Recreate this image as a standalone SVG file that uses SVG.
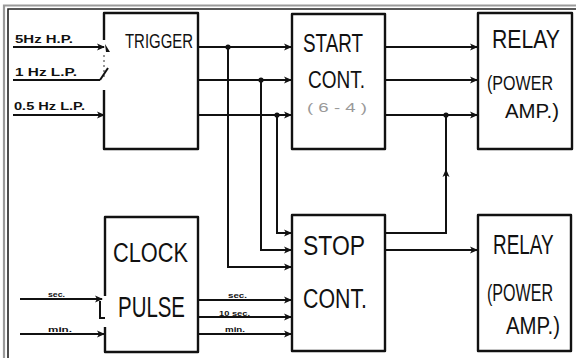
<svg xmlns="http://www.w3.org/2000/svg" width="576" height="358" viewBox="0 0 576 358">
<style>
.box{fill:none;stroke:#111;stroke-width:2.4;stroke-linejoin:round}
.ln{fill:none;stroke:#111;stroke-width:2}
.t{font-family:"Liberation Sans",Arial,sans-serif;fill:#111}
.s{font-family:"Liberation Sans",Arial,sans-serif;fill:#111;font-weight:bold}
</style>
<defs>
<marker id="ah" viewBox="0 0 8 8" refX="7" refY="4" markerWidth="8" markerHeight="8" markerUnits="userSpaceOnUse" orient="auto">
<path d="M0,0.5 L8,4 L0,7.5 L2,4 Z" fill="#111"/>
</marker>
</defs>
<rect width="576" height="358" fill="#fff"/>
<g id="frame">
<path d="M4,358 V5.5 H576" fill="none" stroke="#9a9a9a" stroke-width="2.2"/>
<path d="M8,358 V9 H576" fill="none" stroke="#222" stroke-width="1.6"/>
</g>
<g id="connectors">
<line class="ln" x1="13" y1="47" x2="104" y2="47" marker-end="url(#ah)"/>
<line class="ln" x1="13" y1="80" x2="100" y2="80"/>
<line class="ln" x1="13" y1="115" x2="104" y2="115" marker-end="url(#ah)"/>
<line class="ln" x1="198" y1="47" x2="291" y2="47" marker-end="url(#ah)"/>
<line class="ln" x1="198" y1="80" x2="291" y2="80" marker-end="url(#ah)"/>
<line class="ln" x1="198" y1="115" x2="291" y2="115" marker-end="url(#ah)"/>
<polyline class="ln" points="228,47 228,267 291,267" marker-end="url(#ah)"/>
<polyline class="ln" points="261,80 261,250 291,250" marker-end="url(#ah)"/>
<polyline class="ln" points="277,115 277,233 291,233" marker-end="url(#ah)"/>
<circle cx="228" cy="47" r="2.6" fill="#111"/>
<circle cx="261" cy="80" r="2.6" fill="#111"/>
<circle cx="277" cy="115" r="2.6" fill="#111"/>
<line class="ln" x1="20" y1="299" x2="102" y2="299" marker-end="url(#ah)"/>
<path class="ln" d="M100,301 V318 H105"/>
<line class="ln" x1="20" y1="334" x2="104" y2="334" marker-end="url(#ah)"/>
<line class="ln" x1="198" y1="300" x2="291" y2="300" marker-end="url(#ah)"/>
<line class="ln" x1="198" y1="317" x2="291" y2="317" marker-end="url(#ah)"/>
<line class="ln" x1="198" y1="334" x2="291" y2="334" marker-end="url(#ah)"/>
<line class="ln" x1="385" y1="47" x2="477" y2="47" marker-end="url(#ah)"/>
<line class="ln" x1="385" y1="80" x2="477" y2="80" marker-end="url(#ah)"/>
<line class="ln" x1="385" y1="115" x2="477" y2="115" marker-end="url(#ah)"/>
<polyline class="ln" points="385,233 446,233 446,170" marker-end="url(#ah)"/>
<line class="ln" x1="446" y1="172" x2="446" y2="115"/>
<circle cx="446" cy="115" r="2.6" fill="#111"/>
<line class="ln" x1="385" y1="250" x2="477" y2="250" marker-end="url(#ah)"/>
</g>
<g id="trigger">
<path class="box" d="M104,40 V13 H198 V149 H104 V90"/>
<path d="M105,44 L110,52 L106,52 Z" fill="#111"/>
<line x1="104" y1="55" x2="104" y2="78" stroke="#777" stroke-width="1.5" stroke-dasharray="2,3"/>
<line class="ln" x1="100" y1="80" x2="108" y2="68"/>
<text class="t" x="125" y="48" font-size="21" textLength="68" lengthAdjust="spacingAndGlyphs">TRIGGER</text>
<text class="s" x="15" y="43" font-size="10" textLength="58" lengthAdjust="spacingAndGlyphs">5Hz H.P.</text>
<text class="s" x="15" y="76" font-size="10" textLength="62" lengthAdjust="spacingAndGlyphs">1 Hz L.P.</text>
<text class="s" x="14" y="110" font-size="10" textLength="71" lengthAdjust="spacingAndGlyphs">0.5 Hz L.P.</text>
</g>
<g id="start">
<rect class="box" x="292" y="14" width="93" height="135"/>
<text class="t" x="303" y="52" font-size="26" textLength="60" lengthAdjust="spacingAndGlyphs">START</text>
<text class="t" x="308" y="88" font-size="23" textLength="57" lengthAdjust="spacingAndGlyphs">CONT.</text>
<text class="t" x="307" y="112" font-size="13" style="fill:#999" textLength="60" lengthAdjust="spacingAndGlyphs">( 6 - 4 )</text>
</g>
<g id="relay1">
<rect class="box" x="478" y="13" width="94" height="136"/>
<text class="t" x="492" y="48" font-size="25" textLength="68" lengthAdjust="spacingAndGlyphs">RELAY</text>
<text class="t" x="487" y="90" font-size="21" textLength="66" lengthAdjust="spacingAndGlyphs">(POWER</text>
<text class="t" x="505" y="118" font-size="21" textLength="54" lengthAdjust="spacingAndGlyphs">AMP.)</text>
</g>
<g id="clock">
<path class="box" d="M105,296 V217 H198 V352 H105 V327"/>
<text class="t" x="113" y="262" font-size="27" textLength="75" lengthAdjust="spacingAndGlyphs">CLOCK</text>
<text class="t" x="118" y="317" font-size="29" textLength="67" lengthAdjust="spacingAndGlyphs">PULSE</text>
<text class="s" x="48" y="297" font-size="7" textLength="17" lengthAdjust="spacingAndGlyphs">sec.</text>
<text class="s" x="48" y="332" font-size="7" textLength="24" lengthAdjust="spacingAndGlyphs">min.</text>
<text class="s" x="228" y="298" font-size="7" textLength="19" lengthAdjust="spacingAndGlyphs">sec.</text>
<text class="s" x="219" y="316" font-size="7" textLength="31" lengthAdjust="spacingAndGlyphs">10 sec.</text>
<text class="s" x="225" y="332" font-size="7" textLength="20" lengthAdjust="spacingAndGlyphs">min.</text>
</g>
<g id="stop">
<rect class="box" x="292" y="215" width="93" height="136"/>
<text class="t" x="303" y="255" font-size="27" textLength="62" lengthAdjust="spacingAndGlyphs">STOP</text>
<text class="t" x="303" y="308" font-size="27" textLength="64" lengthAdjust="spacingAndGlyphs">CONT.</text>
</g>
<g id="relay2">
<rect class="box" x="478" y="215" width="93" height="136"/>
<text class="t" transform="translate(493,254) scale(0.7,1)" font-size="27">RELAY</text>
<text class="t" transform="translate(487,301) scale(0.7,1)" font-size="23">(POWER</text>
<text class="t" x="506" y="334" font-size="23" textLength="54" lengthAdjust="spacingAndGlyphs">AMP.)</text>
</g>
</svg>
